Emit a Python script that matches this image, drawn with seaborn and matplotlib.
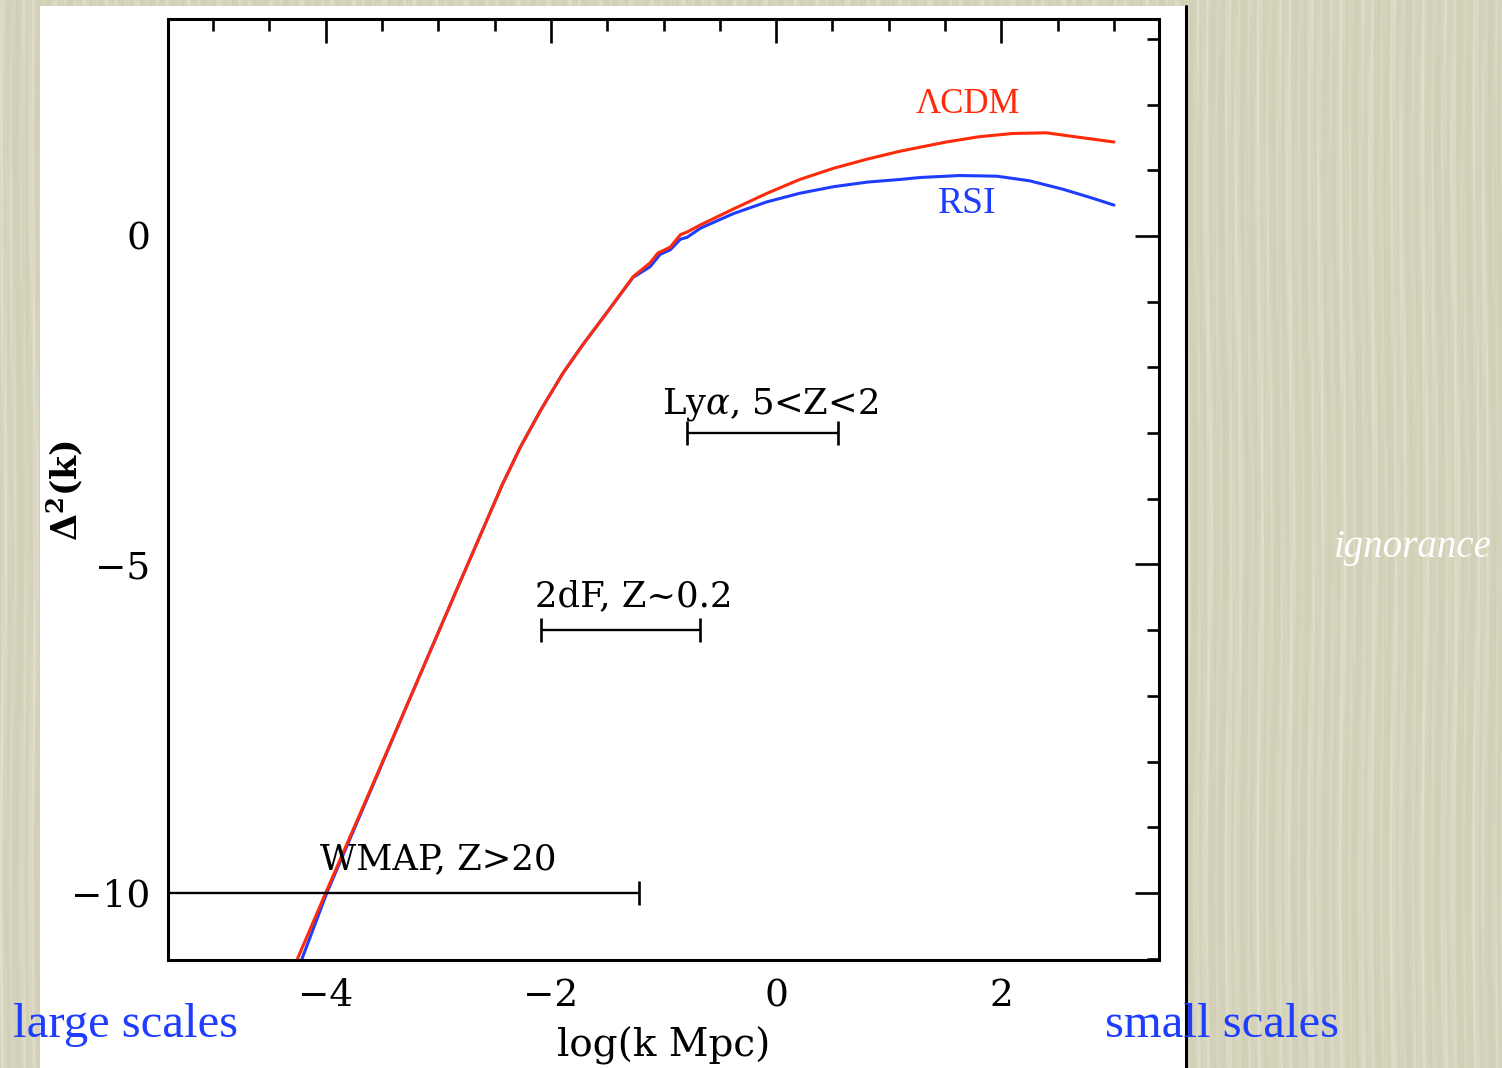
import numpy as np
import pandas as pd
import matplotlib
matplotlib.use("Agg")
import matplotlib.pyplot as plt
from matplotlib.patches import Rectangle
from matplotlib.ticker import MultipleLocator
import seaborn as sns

# Dimensionless power spectrum, log10(Delta^2) versus log10(k Mpc)
x_lcdm = [-4.25, -4.00, -3.60, -3.25, -2.81, -2.43, -2.27, -2.09, -1.89, -1.71,
          -1.50, -1.27, -1.12, -1.05, -0.94, -0.85, -0.79, -0.67, -0.38, -0.08,
          0.21, 0.51, 0.81, 1.10, 1.51, 1.80, 2.10, 2.40, 2.70, 3.00]
d2_lcdm = [-11.00, -10.00, -8.42, -7.03, -5.28, -3.78, -3.21, -2.65, -2.08, -1.64,
           -1.16, -0.62, -0.41, -0.26, -0.17, 0.02, 0.06, 0.17, 0.41, 0.65,
           0.86, 1.03, 1.17, 1.29, 1.43, 1.51, 1.56, 1.57, 1.50, 1.43]

x_rsi = [-4.21, -3.99, -3.60, -3.25, -2.81, -2.43, -2.27, -2.09, -1.89, -1.71,
         -1.50, -1.27, -1.12, -1.03, -0.94, -0.85, -0.79, -0.67, -0.38, -0.08,
         0.21, 0.51, 0.81, 1.10, 1.28, 1.63, 1.96, 2.25, 2.55, 2.80, 3.00]
d2_rsi = [-11.00, -10.00, -8.44, -7.03, -5.28, -3.78, -3.21, -2.65, -2.08, -1.64,
          -1.16, -0.63, -0.47, -0.28, -0.21, -0.05, -0.02, 0.12, 0.34, 0.52,
          0.65, 0.75, 0.82, 0.86, 0.89, 0.92, 0.91, 0.84, 0.71, 0.58, 0.47]

# Scale ranges probed by each survey
band_names = ["Ly$\\alpha$, 5<Z<2", "2dF, Z~0.2", "WMAP, Z>20"]
band_lo = [-0.79, -2.09, -5.70]
band_hi = [0.55, -0.68, -1.22]
band_y = [-3.0, -6.0, -10.0]
band_text_x = [-1.01, -2.14, -4.05]
band_text_y = [-2.56, -5.49, -9.48]

x_ticks = [-4, -2, 0, 2]
y_ticks = [-10, -5, 0]

df = pd.concat([
    pd.DataFrame({"logk": x_lcdm, "d2": d2_lcdm, "model": "LCDM"}),
    pd.DataFrame({"logk": x_rsi, "d2": d2_rsi, "model": "RSI"}),
], ignore_index=True)

sns.set_theme(style="white")
plt.rcParams["font.family"] = ["DejaVu Serif"]
plt.rcParams["mathtext.fontset"] = "dejavuserif"
for key in ("text.color", "axes.labelcolor", "xtick.color", "ytick.color"):
    plt.rcParams[key] = "black"

RED = "#ff2a0a"
BLUE = "#1f3dff"

fig = plt.figure(figsize=(15.02, 10.68), dpi=100)

# Textured paper backdrop: fine, soft vertical fibres
bg = fig.add_axes([0, 0, 1, 1], zorder=-10)
cols = np.arange(1502)
rows = np.arange(1068)[:, None]
fibre = (0.45 * np.sin(cols * 0.61 + 1.5 * np.sin(rows * 0.009))
         + 0.30 * np.sin(cols * 0.23 + 0.7 + 0.9 * np.sin(rows * 0.006 + 2.0))
         + 0.25 * np.sin(cols * 1.37 + 0.8 * np.sin(rows * 0.015 + 1.0)))
fibre = (fibre - fibre.min()) / (fibre.max() - fibre.min())
base = np.array([209, 207, 181]) / 255.0
light = np.array([226, 225, 207]) / 255.0
tex = base + (light - base) * (fibre ** 2)[..., None]
bg.imshow(tex, aspect="auto", extent=[0, 1, 0, 1], interpolation="bilinear")
bg.set_axis_off()

# White slide panel and divider
fig.patches.append(Rectangle((40 / 1502, 0), (1186 - 40) / 1502, 1 - 6 / 1068,
                             transform=fig.transFigure, facecolor="white",
                             edgecolor="none", zorder=-5))
fig.add_artist(plt.Line2D([1186 / 1502, 1186 / 1502], [0, 1 - 6 / 1068],
                          transform=fig.transFigure, color="black", lw=2.2))

ax = fig.add_axes([168 / 1502, 1 - 960 / 1068, (1159 - 168) / 1502, (960 - 18.5) / 1068])
ax.set_facecolor("none")

sns.lineplot(data=df, x="logk", y="d2", hue="model", palette={"LCDM": RED, "RSI": BLUE},
             hue_order=["RSI", "LCDM"], estimator=None, sort=False, lw=2.2,
             legend=False, ax=ax)

for name, lo, hi, yv, tx, ty in zip(band_names, band_lo, band_hi, band_y, band_text_x, band_text_y):
    ax.errorbar([(lo + hi) / 2], [yv], xerr=[(hi - lo) / 2], fmt="none", ecolor="black",
                elinewidth=1.7, capsize=8.6, capthick=1.9)
    ax.text(tx, ty, name, ha="left", va="center", fontsize=25.5, color="black")

ax.text(1.70, 2.0, "ΛCDM", color=RED, fontsize=25, ha="center", va="center",
        family="Liberation Serif")
ax.text(1.70, 0.49, "RSI", color=BLUE, fontsize=27, ha="center", va="center",
        family="Liberation Serif")

ax.set_xlim(-5.4, 3.4)
ax.set_ylim(-11.02, 3.31)
ax.set_xticks(x_ticks)
ax.set_yticks(y_ticks)
ax.set_xticklabels(["\u22124", "\u22122", "0", "2"])
ax.set_yticklabels(["\u221210", "\u22125", "0"])
ax.xaxis.set_minor_locator(MultipleLocator(0.5))
ax.yaxis.set_minor_locator(MultipleLocator(1))
ax.tick_params(which="both", direction="in", top=True, right=True, width=1.9,
               color="black", labelsize=27, pad=13)
ax.tick_params(which="major", length=17)
ax.tick_params(which="minor", length=8.5)
for s in ax.spines.values():
    s.set_color("black")
    s.set_linewidth(2.2)

ax.set_xlabel("log(k Mpc)", fontsize=28, labelpad=9)
ax.set_ylabel("$\\mathbf{\\Delta^2}$(k)", fontsize=25, fontweight="bold", va="center")
ax.yaxis.set_label_coords(-0.104, 0.499)

fig.text(125 / 1502, 1 - 1025 / 1068, "large scales", color=BLUE, fontsize=35,
         ha="center", va="center", family="Liberation Serif")
fig.text(1222 / 1502, 1 - 1025 / 1068, "small scales", color=BLUE, fontsize=35,
         ha="center", va="center", family="Liberation Serif")
fig.text(1413 / 1502, 1 - 548 / 1068, "ignorance", color="white", fontsize=28,
         ha="center", va="center", family="Liberation Serif", style="italic")

fig.savefig("out.png", dpi=100)
